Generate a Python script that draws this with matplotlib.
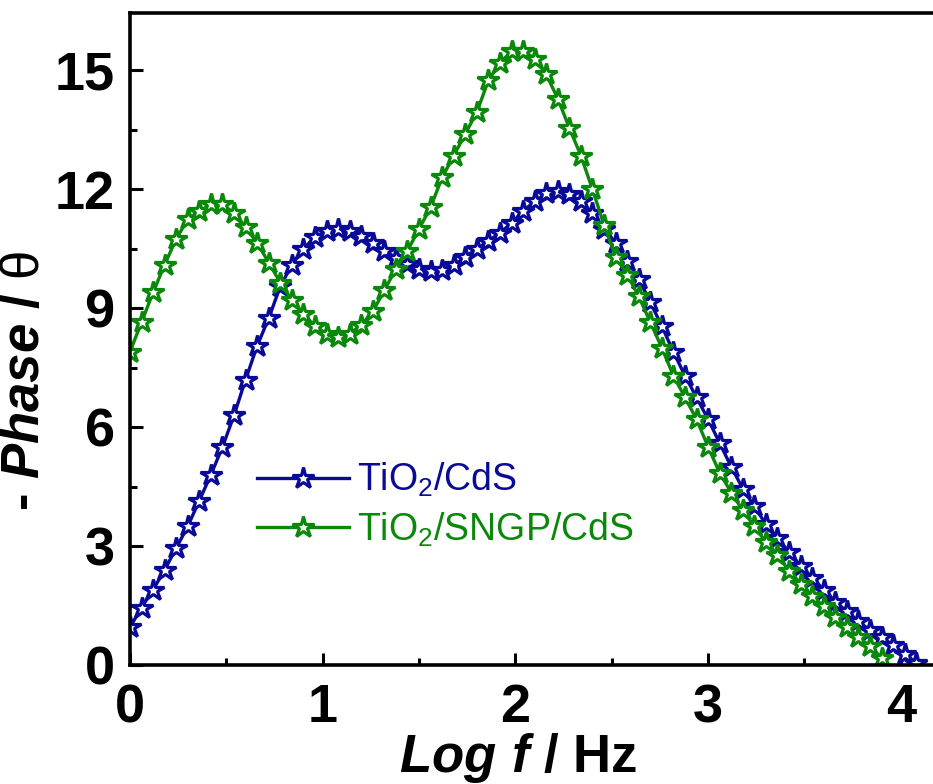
import matplotlib
matplotlib.use('Agg')
import matplotlib.pyplot as plt

# log frequency grid shared by both samples
log_f = [0.00, 0.06, 0.12, 0.18, 0.24, 0.30, 0.36, 0.42, 0.48, 0.54,
         0.60, 0.66, 0.72, 0.78, 0.84, 0.90, 0.96, 1.02, 1.08, 1.14,
         1.20, 1.26, 1.32, 1.38, 1.44, 1.50, 1.56, 1.62, 1.68, 1.74,
         1.80, 1.86, 1.92, 1.98, 2.04, 2.10, 2.16, 2.22, 2.28, 2.34,
         2.40, 2.46, 2.52, 2.58, 2.64, 2.70, 2.76, 2.82, 2.88, 2.94,
         3.00, 3.06, 3.12, 3.18, 3.24, 3.30, 3.36, 3.42, 3.48, 3.54,
         3.60, 3.66, 3.72, 3.78, 3.84, 3.90, 3.96, 4.02, 4.08]

# -phase (deg) for TiO2/CdS
phase_cds = [0.95, 1.45, 1.90, 2.40, 2.95, 3.50, 4.15, 4.80, 5.50, 6.30,
             7.20, 8.05, 8.75, 9.55, 10.10, 10.50, 10.80, 10.95, 11.00, 10.95,
             10.82, 10.65, 10.45, 10.28, 10.12, 10.00, 9.95, 9.97, 10.08, 10.30,
             10.50, 10.70, 10.90, 11.15, 11.45, 11.70, 11.90, 11.97, 11.88, 11.70,
             11.40, 11.00, 10.65, 10.20, 9.75, 9.15, 8.55, 7.90, 7.30, 6.75,
             6.20, 5.60, 5.00, 4.45, 4.00, 3.55, 3.20, 2.85, 2.50, 2.20,
             1.90, 1.60, 1.35, 1.10, 0.88, 0.70, 0.50, 0.28, 0.06]

# -phase (deg) for TiO2/SNGP/CdS
phase_sngp = [7.90, 8.65, 9.40, 10.10, 10.75, 11.25, 11.45, 11.62, 11.62, 11.40,
              11.05, 10.65, 10.15, 9.65, 9.20, 8.85, 8.55, 8.36, 8.28, 8.36,
              8.57, 8.92, 9.45, 10.00, 10.45, 11.00, 11.55, 12.30, 12.85, 13.40,
              13.95, 14.75, 15.20, 15.48, 15.50, 15.30, 14.90, 14.29, 13.55, 12.85,
              12.00, 11.10, 10.30, 9.85, 9.30, 8.65, 8.00, 7.30, 6.75, 6.20,
              5.50, 4.85, 4.35, 3.90, 3.50, 3.10, 2.77, 2.38, 2.05, 1.75,
              1.48, 1.22, 0.97, 0.70, 0.48, 0.18]

plt.rcParams['font.family'] = ['Liberation Sans', 'DejaVu Sans']
plt.rcParams['mathtext.fontset'] = 'custom'
plt.rcParams['mathtext.rm'] = 'Liberation Sans:bold'
plt.rcParams['mathtext.it'] = 'Liberation Sans:italic:bold'
plt.rcParams['mathtext.sf'] = 'Liberation Sans'

fig = plt.figure(figsize=(9.33, 7.84), dpi=100)
# axes runs slightly past the right edge of the figure
ax = fig.add_axes([0.1393, 0.1518, 0.8675, 0.8316])

blue = '#0a0a98'
green = '#0a880a'

ax.plot(log_f, phase_cds, '-', color=blue, lw=2.4, marker='*', ms=16,
        mfc='white', mec=blue, mew=2.3, label=r'TiO$_\mathsf{2}$/CdS')
ax.plot(log_f[:len(phase_sngp)], phase_sngp, '-', color=green, lw=2.4,
        marker='*', ms=16, mfc='white', mec=green, mew=2.3,
        label=r'TiO$_\mathsf{2}$/SNGP/CdS')

ax.set_xlim(0, 4.2)
ax.set_ylim(0, 16.45)
ax.set_xticks([0, 1, 2, 3, 4])
ax.set_xticks([0.5, 1.5, 2.5, 3.5], minor=True)
ax.set_yticks([0, 3, 6, 9, 12, 15])
ax.set_yticks([1.5, 4.5, 7.5, 10.5, 13.5], minor=True)

for side in ['left', 'bottom', 'top', 'right']:
    ax.spines[side].set_linewidth(2.6)

ax.tick_params(which='both', direction='in', width=2.2, top=False, right=False)
ax.tick_params(which='major', length=9)
ax.tick_params(which='minor', length=5)
ax.tick_params(axis='x', which='major', pad=13)
ax.tick_params(axis='y', which='major', pad=11)
for lbl in ax.get_xticklabels() + ax.get_yticklabels():
    lbl.set_fontsize(39)
    lbl.set_fontweight('bold')

ax.set_xlabel(r'$\it{Log\ f}$ / Hz', fontsize=38, fontweight='bold')
ax.xaxis.set_label_coords(0.48, -0.164)
ax.xaxis.label.set_va('baseline')
ax.set_ylabel(r'- $\it{Phase}$ / $\mathsf{θ}$', fontsize=38, fontweight='bold')
ax.yaxis.set_label_coords(-0.099, 0.435)

leg = ax.legend(loc='upper left', bbox_to_anchor=(0.134, 0.342), frameon=False,
                fontsize=27, numpoints=1, handlelength=2.45, handletextpad=0.2,
                labelspacing=0.3, borderpad=0, labelcolor='linecolor')

plt.savefig('out.png', dpi=100)
